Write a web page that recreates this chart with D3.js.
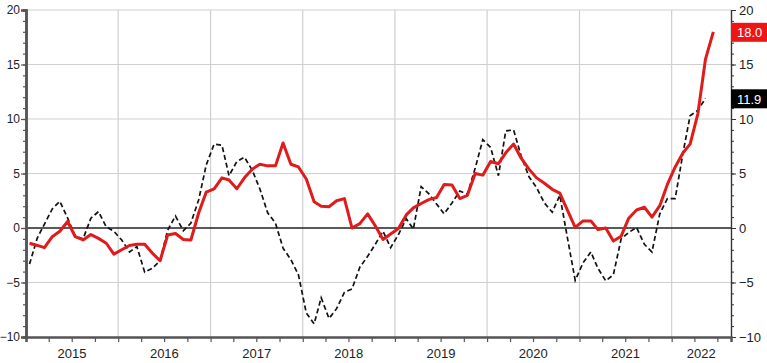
<!DOCTYPE html>
<html>
<head>
<meta charset="utf-8">
<script src="https://cdn.jsdelivr.net/npm/d3@7"></script>
<style>
  body { margin: 0; background: #fff; }
  svg { display: block; font-family: "Liberation Sans", Arial, sans-serif; }
</style>
</head>
<body>
<div class="canvas"></div>
<script>
// monthly data, first point Jan 2015
const firstMonth = new Date(2015, 0, 15);
const yearLabels = ['2015', '2016', '2017', '2018', '2019', '2020', '2021', '2022'];
const yTicks = [-10, -5, 0, 5, 10, 15, 20];

// red series (Jan 2015 - Jun 2022)
const redValues = [
  -1.4, -1.6, -1.8, -0.8, -0.3, 0.6, -0.8, -1.1, -0.6, -0.95, -1.4, -2.4,
  -2.0, -1.6, -1.5, -1.5, -2.3, -3.0, -0.65, -0.5, -1.05, -1.1, 1.4, 3.3,
  3.6, 4.6, 4.4, 3.6, 4.6, 5.4, 5.85, 5.7, 5.7, 7.8, 5.85, 5.6,
  4.5, 2.4, 2.0, 1.95, 2.5, 2.7, 0.0, 0.4, 1.3, 0.2, -1.05, -0.55,
  -0.05, 1.2, 1.85, 2.25, 2.6, 2.8, 4.0, 3.95, 2.7, 3.0, 5.0, 4.85,
  6.1, 5.9, 6.9, 7.7, 6.4, 5.4, 4.6, 4.1, 3.55, 3.2, 1.6, 0.05,
  0.65, 0.65, -0.15, 0.0, -1.2, -0.75, 0.9, 1.65, 1.9, 1.0, 2.05, 4.0,
  5.6, 6.9, 7.7, 10.5, 15.5, 18.0
];

// black dashed series (Jan 2015 - May 2022)
const blackValues = [
  -3.3, -0.9, 0.35, 1.75, 2.45, 0.9, -0.75, -1.0, 0.9, 1.5, 0.1, -0.3,
  -1.1, -2.2, -1.7, -4.05, -3.7, -3.0, -0.2, 1.1, -0.25, 0.45, 2.6, 5.8,
  7.7, 7.6, 4.8, 6.1, 6.5, 5.3, 3.6, 1.4, 0.45, -1.85, -2.9, -4.3,
  -7.8, -8.8, -6.4, -8.3, -7.4, -5.9, -5.6, -3.6, -2.6, -1.5, -0.3, -1.8,
  -0.6, 0.85, -0.1, 3.8, 3.15, 2.2, 1.3, 2.3, 3.4, 3.1, 5.5, 8.1,
  7.4, 4.8, 8.9, 9.0, 6.6, 4.7, 3.7, 2.3, 1.45, 3.0, -1.0, -4.8,
  -3.2, -2.2, -3.7, -4.85, -4.3, -1.0, -0.4, 0.05, -1.5, -2.2, 1.3, 2.7,
  2.7, 6.9, 10.3, 10.8, 11.9
];

const dims = { width: 767, height: 363 };
const margin = { top: 10, right: 36, bottom: 26, left: 26 };
const inner = {
  left: margin.left,
  right: dims.width - margin.right,
  top: margin.top,
  bottom: dims.height - margin.bottom
};

const monthOf = i => d3.timeMonth.offset(firstMonth, i);

const svg = d3.select('.canvas')
  .append('svg')
  .attr('width', dims.width)
  .attr('height', dims.height);

const x = d3.scaleTime()
  .domain([new Date(2015, 0, 1), new Date(2022, 7, 24)])
  .range([inner.left, inner.right]);

const y = d3.scaleLinear()
  .domain([-10, 20])
  .range([inner.bottom, inner.top]);

// grid
const yearStarts = d3.timeYear.range(new Date(2016, 0, 1), new Date(2023, 0, 1));

svg.append('g')
  .selectAll('line')
  .data(yearStarts)
  .enter().append('line')
  .attr('x1', d => x(d)).attr('x2', d => x(d))
  .attr('y1', inner.top).attr('y2', inner.bottom)
  .attr('stroke', '#cfcfcf')
  .attr('stroke-width', 1.2);

svg.append('g')
  .selectAll('line')
  .data(yTicks.filter(v => v !== 0 && v !== -10))
  .enter().append('line')
  .attr('x1', inner.left).attr('x2', inner.right)
  .attr('y1', d => y(d)).attr('y2', d => y(d))
  .attr('stroke', '#cfcfcf')
  .attr('stroke-width', 1.2);

// zero line
svg.append('line')
  .attr('x1', inner.left).attr('x2', inner.right)
  .attr('y1', y(0)).attr('y2', y(0))
  .attr('stroke', '#222')
  .attr('stroke-width', 1.6);

// left axis
const minorTicks = d3.range(-10, 21, 1);

const leftMinor = svg.append('g')
  .attr('transform', `translate(${inner.left}, 0)`)
  .call(d3.axisLeft(y).tickValues(minorTicks).tickSize(3).tickFormat(''));

const leftAxis = svg.append('g')
  .attr('transform', `translate(${inner.left}, 0)`)
  .call(d3.axisLeft(y).tickValues(yTicks).tickSize(5).tickPadding(1).tickFormat(d3.format('d')));

[leftMinor, leftAxis].forEach(g => {
  g.select('.domain').attr('stroke', '#555').attr('stroke-width', 2.5);
  g.selectAll('.tick line').attr('stroke', '#555').attr('stroke-width', 1.2);
});
leftAxis.selectAll('text')
  .attr('font-size', 12)
  .attr('fill', '#222')
  .attr('font-family', '"Liberation Sans", Arial, sans-serif');

// right axis
const rightMinor = svg.append('g')
  .attr('transform', `translate(${inner.right}, 0)`)
  .call(d3.axisRight(y).tickValues(minorTicks).tickSize(3).tickFormat(''));

const rightAxis = svg.append('g')
  .attr('transform', `translate(${inner.right}, 0)`)
  .call(d3.axisRight(y).tickValues(yTicks).tickSize(5).tickPadding(3).tickFormat(d3.format('d')));

[rightMinor, rightAxis].forEach(g => {
  g.select('.domain').attr('stroke', '#333').attr('stroke-width', 1.2);
  g.selectAll('.tick line').attr('stroke', '#333');
});
rightAxis.selectAll('text')
  .attr('font-size', 13)
  .attr('fill', '#222')
  .attr('font-family', '"Liberation Sans", Arial, sans-serif');

// bottom axis (quarter ticks, year labels centred in each year)
const bottom = svg.append('g')
  .attr('transform', `translate(0, ${inner.bottom})`)
  .call(d3.axisBottom(x).ticks(d3.timeMonth.every(3)).tickSize(5).tickFormat(''));

bottom.select('.domain').attr('stroke', '#555').attr('stroke-width', 2.5);
bottom.selectAll('.tick line').attr('stroke', '#555').attr('stroke-width', 1.2);

const xMax = x.domain()[1];
svg.append('g')
  .selectAll('text')
  .data(yearLabels)
  .enter().append('text')
  .attr('x', d => {
    const a = new Date(+d, 0, 1);
    const b = d3.min([new Date(+d + 1, 0, 1), xMax]);
    return (x(a) + x(b)) / 2;
  })
  .attr('y', inner.bottom + 21)
  .attr('text-anchor', 'middle')
  .attr('font-size', 13)
  .attr('fill', '#222')
  .text(d => d);

// lines
const line = d3.line()
  .x((d, i) => x(monthOf(i)))
  .y(d => y(d));

svg.append('path')
  .datum(blackValues)
  .attr('fill', 'none')
  .attr('stroke', '#111')
  .attr('stroke-width', 1.7)
  .attr('stroke-dasharray', '5,3')
  .attr('d', line);

svg.append('path')
  .datum(redValues)
  .attr('fill', 'none')
  .attr('stroke', '#e01b1b')
  .attr('stroke-width', 3)
  .attr('stroke-linejoin', 'round')
  .attr('d', line);

// last value boxes on the right axis
const lastLabels = [
  { value: redValues[redValues.length - 1], fill: '#ee1515' },
  { value: blackValues[blackValues.length - 1], fill: '#000' }
];

const boxes = svg.append('g')
  .selectAll('g')
  .data(lastLabels)
  .enter().append('g')
  .attr('transform', d => `translate(${inner.right}, ${y(d.value) + 1})`);

boxes.append('rect')
  .attr('x', 0).attr('y', -10)
  .attr('width', dims.width - inner.right).attr('height', 19)
  .attr('fill', d => d.fill);

boxes.append('text')
  .attr('x', 6).attr('y', 0)
  .attr('dy', '0.35em')
  .attr('font-size', 13)
  .attr('fill', '#fff')
  .text(d => d3.format('.1f')(d.value));
</script>
</body>
</html>
